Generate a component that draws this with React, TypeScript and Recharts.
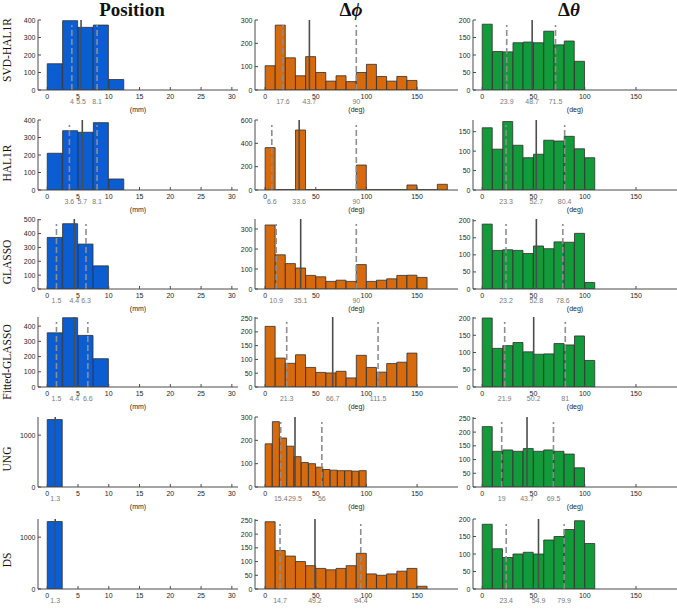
import React from "react";
import { BarChart, Bar, XAxis, YAxis, ReferenceLine } from "recharts";

// ---------- categories & labels ----------
const methods = ["SVD-HAL1R", "HAL1R", "GLASSO", "Fitted-GLASSO", "UNG", "DS"];
const posTicks = [0, 5, 10, 15, 20, 25, 30];
const angTicks = [0, 50, 100, 150];

// ---------- histogram bin centres ----------
const posCentres = [1.25, 3.75, 6.25, 8.75, 11.25];
const angCentres10 = [5, 15, 25, 35, 45, 55, 65, 75, 85, 95, 105, 115, 125, 135, 145, 155, 165, 175];
const angCentresUng = [3.57, 10.71, 17.86, 25, 32.14, 39.29, 46.43, 53.57, 60.71, 67.86, 75, 82.14, 89.29, 96.43];

// ---------- position error counts (mm) ----------
const posSvdHal1r = [150, 396, 358, 371, 60];
const posHal1r = [210, 339, 330, 385, 63];
const posGlasso = [372, 471, 324, 167, 0];
const posFitted = [356, 455, 339, 186, 0];
const posUng = [1300, 0, 0, 0, 0];
const posDs = [1300, 0, 0, 0, 0];

// ---------- delta phi counts (deg) ----------
const phiSvdHal1r = [104, 278, 138, 61, 143, 75, 38, 61, 36, 75, 110, 58, 38, 58, 41];
const phiHal1r = [363, 4, 4, 514, 3, 3, 3, 3, 3, 214, 3, 3, 3, 3, 43, 3, 3, 49];
const phiGlasso = [320, 171, 127, 105, 68, 61, 38, 44, 38, 122, 38, 44, 51, 68, 69, 58];
const phiFitted = [220, 105, 86, 117, 71, 53, 51, 57, 33, 115, 71, 54, 85, 90, 123];
const phiUng = [185, 280, 210, 175, 130, 105, 100, 85, 75, 72, 70, 70, 68, 70];
const phiDs = [245, 140, 120, 100, 85, 75, 70, 75, 85, 130, 55, 50, 55, 65, 75, 10];

// ---------- delta theta counts (deg) ----------
const thetaSvdHal1r = [188, 110, 109, 135, 137, 135, 168, 129, 140, 82];
const thetaHal1r = [160, 105, 176, 115, 83, 92, 128, 126, 138, 106, 83];
const thetaGlasso = [190, 113, 115, 113, 104, 126, 118, 138, 137, 163, 19];
const thetaFitted = [200, 112, 120, 129, 102, 95, 96, 126, 122, 148, 77];
const thetaUng = [220, 130, 135, 130, 140, 130, 135, 130, 120, 70];
const thetaDs = [185, 115, 90, 100, 105, 100, 140, 150, 170, 195, 130];

// ---------- quartiles [Q1, median, Q3] (median only when a single value) ----------
const posStats = [[4, 5.5, 8.1], [3.6, 5.7, 8.1], [1.5, 4.4, 6.3], [1.5, 4.4, 6.6], [1.3], [1.3]];
const phiStats = [[17.6, 43.7, 90], [6.6, 33.6, 90], [10.9, 35.1, 90], [21.3, 66.7, 111.5], [15.4, 29.5, 56], [14.7, 49.2, 94.4]];
const thetaStats = [[23.9, 48.7, 71.5], [23.3, 52.7, 80.4], [23.2, 52.8, 78.6], [21.9, 50.2, 81], [19, 43.7, 69.5], [23.4, 54.9, 79.9]];

// ---------- y-axis ranges ----------
const posYMax = [400, 400, 505, 460, 1350, 1350];
const posYTicks = [[0, 100, 200, 300, 400], [0, 100, 200, 300, 400], [0, 100, 200, 300, 400, 500], [0, 100, 200, 300, 400], [0, 1000], [0, 1000]];
const phiYMax = [300, 600, 350, 254, 300, 255];
const phiYTicks = [[0, 100, 200, 300], [0, 200, 400, 600], [0, 100, 200, 300], [0, 50, 100, 150, 200, 250], [0, 100, 200, 300], [0, 50, 100, 150, 200, 250]];
const thetaYMax = [200, 180, 205, 203, 255, 200];
const thetaYTicks = [[0, 50, 100, 150, 200], [0, 50, 100, 150], [0, 50, 100, 150, 200], [0, 50, 100, 150, 200], [0, 50, 100, 150, 200, 250], [0, 50, 100, 150, 200]];

// ---------- layout ----------
const PAGE_W = 677;
const PAGE_H = 609;
const ROW_TOPS = [20, 120, 219, 317, 417, 519];
const ROW_LABEL_Y = [50, 163, 262, 362, 459, 560];
const PLOT_H = 70;
const PAD_TOP = 4;
const X_AXIS_H = 26;
const Y_AXIS_W = 30;
const AXIS_COLOR = "#4a4a4a";
const TEXT_COLOR = "#262626";
const STAT_TEXT = "#7a7a7a";
const TICK_FONT = "'Liberation Sans', Arial, Helvetica, sans-serif";
const SERIF = "'Liberation Serif', 'DejaVu Serif', serif";

type ColumnSpec = {
  plotLeft: number;
  plotWidth: number;
  xDomain: [number, number];
  xTicks: number[];
  unit: string;
  fill: string;
};

const columns: ColumnSpec[] = [
  { plotLeft: 38, plotWidth: 200, xDomain: [-1.5, 31], xTicks: posTicks, unit: "(mm)", fill: "#0A5ED2" },
  { plotLeft: 255, plotWidth: 203, xDomain: [-10, 190.4], xTicks: angTicks, unit: "(deg)", fill: "#D66A0C" },
  { plotLeft: 473, plotWidth: 204, xDomain: [-9, 190], xTicks: angTicks, unit: "(deg)", fill: "#129B3A" },
];

type PanelSpec = {
  centres: number[];
  counts: number[];
  stats: number[];
  yMax: number;
  yTicks: number[];
};

const posCounts = [posSvdHal1r, posHal1r, posGlasso, posFitted, posUng, posDs];
const phiCounts = [phiSvdHal1r, phiHal1r, phiGlasso, phiFitted, phiUng, phiDs];
const thetaCounts = [thetaSvdHal1r, thetaHal1r, thetaGlasso, thetaFitted, thetaUng, thetaDs];

const panelRows: PanelSpec[][] = methods.map((_, r) => [
  { centres: posCentres, counts: posCounts[r], stats: posStats[r], yMax: posYMax[r], yTicks: posYTicks[r] },
  { centres: r === 4 ? angCentresUng : angCentres10, counts: phiCounts[r], stats: phiStats[r], yMax: phiYMax[r], yTicks: phiYTicks[r] },
  { centres: angCentres10, counts: thetaCounts[r], stats: thetaStats[r], yMax: thetaYMax[r], yTicks: thetaYTicks[r] },
]);

function makeXTick(regular: number[]) {
  return (props: any) => {
    const { x, y, payload } = props;
    const v = payload.value;
    const isRegular = regular.includes(v) && payload.index < regular.length;
    if (isRegular) {
      return (
        <g>
          <line x1={x} x2={x} y1={y} y2={y - 3} stroke={AXIS_COLOR} strokeWidth={1} />
          <text x={x} y={y + 8.5} textAnchor="middle" fontSize={7} fontFamily={TICK_FONT} fill={TEXT_COLOR}>
            {v}
          </text>
        </g>
      );
    }
    return (
      <text x={x} y={y + 14} textAnchor="middle" fontSize={7} fontFamily={TICK_FONT} fill={STAT_TEXT}>
        {v}
      </text>
    );
  };
}

function YTick(props: any) {
  const { x, y, payload } = props;
  return (
    <g>
      <line x1={x} x2={x + 3} y1={y} y2={y} stroke={AXIS_COLOR} strokeWidth={1} />
      <text x={x - 2.5} y={y + 2.5} textAnchor="end" fontSize={7} fontFamily={TICK_FONT} fill={TEXT_COLOR}>
        {payload.value}
      </text>
    </g>
  );
}

function Panel({ col, spec, top, showUnit }: { col: ColumnSpec; spec: PanelSpec; top: number; showUnit: boolean }) {
  const data = spec.counts.map((n, i) => ({ x: spec.centres[i], n }));
  const ticks = [...col.xTicks, ...spec.stats];
  const width = Y_AXIS_W + col.plotWidth;
  const height = PAD_TOP + PLOT_H + X_AXIS_H;
  const lineKinds = spec.stats.length === 3 ? ["q", "m", "q"] : ["m"];
  const unitLabel = (lp: any) => {
    const vb = lp.viewBox;
    return (
      <text x={vb.x + vb.width / 2} y={vb.y + 21.5} textAnchor="middle" fontSize={7} fontFamily={TICK_FONT} fill={TEXT_COLOR}>
        {col.unit}
      </text>
    );
  };
  return (
    <div style={{ position: "absolute", left: col.plotLeft - Y_AXIS_W, top: top - PAD_TOP }}>
      <BarChart
        width={width}
        height={height}
        data={data}
        margin={{ top: PAD_TOP, right: 0, bottom: 0, left: 0 }}
        barCategoryGap={0}
        barGap={0}
      >
        <XAxis
          type="number"
          dataKey="x"
          domain={col.xDomain}
          allowDataOverflow
          ticks={ticks}
          interval={0}
          height={X_AXIS_H}
          tickSize={0}
          tickMargin={0}
          tickLine={false}
          axisLine={{ stroke: AXIS_COLOR, strokeWidth: 1 }}
          tick={makeXTick(col.xTicks)}
          label={showUnit ? { content: unitLabel } : undefined}
        />
        <YAxis
          type="number"
          domain={[0, spec.yMax]}
          allowDataOverflow
          ticks={spec.yTicks}
          interval={0}
          width={Y_AXIS_W}
          tickSize={0}
          tickMargin={0}
          tickLine={false}
          axisLine={{ stroke: AXIS_COLOR, strokeWidth: 1 }}
          tick={<YTick />}
        />
        <Bar dataKey="n" fill={col.fill} stroke="#2e2e2e" strokeWidth={0.8} isAnimationActive={false} />
        {spec.stats.map((s, i) =>
          lineKinds[i] === "m" ? (
            <ReferenceLine
              key={`m${i}`}
              segment={[{ x: s, y: 0 }, { x: s, y: spec.yMax }]}
              stroke="#4d4d4d"
              strokeWidth={1.6}
            />
          ) : (
            <ReferenceLine
              key={`q${i}`}
              segment={[{ x: s, y: 0 }, { x: s, y: spec.yMax * 0.93 }]}
              stroke="#8e8e8e"
              strokeWidth={1.6}
              strokeDasharray="6 3"
            />
          )
        )}
      </BarChart>
    </div>
  );
}

export default function App() {
  return (
    <div style={{ position: "absolute", left: 0, top: 0, width: PAGE_W, height: PAGE_H, overflow: "hidden", background: "#fff" }}>
      <svg width={PAGE_W} height={PAGE_H} style={{ position: "absolute", left: 0, top: 0 }}>
        <text x={132} y={16} textAnchor="middle" fontSize={19} fontWeight="bold" fontFamily={SERIF} fill="#111">
          Position
        </text>
        <text x={351} y={16} textAnchor="middle" fontSize={19} fontWeight="bold" fontFamily={SERIF} fill="#111">
          Δ<tspan fontStyle="italic">ϕ</tspan>
        </text>
        <text x={569} y={16} textAnchor="middle" fontSize={19} fontWeight="bold" fontFamily={SERIF} fill="#111">
          Δ<tspan fontStyle="italic">θ</tspan>
        </text>
        {methods.map((m, r) => (
          <text
            key={m}
            x={11}
            y={ROW_LABEL_Y[r]}
            transform={`rotate(-90, 11, ${ROW_LABEL_Y[r]})`}
            textAnchor="middle"
            fontSize={11.5}
            fontFamily={SERIF}
            fill="#111"
          >
            {m}
          </text>
        ))}
      </svg>
      {panelRows.map((row, r) =>
        row.map((spec, c) => (
          <Panel
            key={`${r}-${c}`}
            col={columns[c]}
            spec={spec}
            top={ROW_TOPS[r]}
            showUnit={r < methods.length - 1}
          />
        ))
      )}
    </div>
  );
}
